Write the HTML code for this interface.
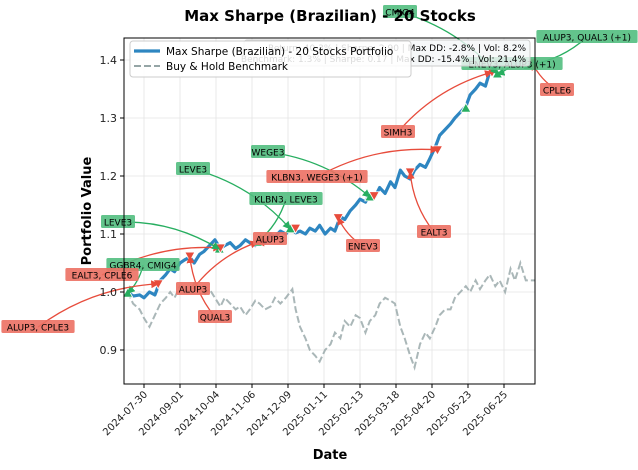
<!DOCTYPE html>
<html><head><meta charset="utf-8"><style>
body{margin:0;background:#fff;}
svg{display:block;font-family:"DejaVu Sans","Liberation Sans",sans-serif;}
</style></head><body>
<svg id="chart" width="638" height="470" viewBox="0 0 638 470"></svg>
<script>
const portDays=[-15,-10,-4,0,5,10,15,20,24,28,33,37,42,46,51,55,60,65,70,74,79,84,88,93,97,102,106,111,116,120,125,130,134,139,143,148,152,157,161,166,171,175,180,184,189,194,198,203,207,212,216,221,226,230,235,239,244,248,253,258,262,267,271,276,281,285,290,295,299,304,308,313,317,322,326,331,336,340,345,350,358];
const portVals=[1.0,0.993,0.995,0.99,1.0,0.995,1.02,1.03,1.04,1.035,1.05,1.055,1.06,1.05,1.065,1.07,1.08,1.09,1.075,1.08,1.085,1.075,1.08,1.09,1.085,1.08,1.09,1.085,1.1,1.095,1.105,1.1,1.11,1.102,1.105,1.1,1.11,1.105,1.115,1.1,1.11,1.105,1.13,1.125,1.14,1.15,1.16,1.155,1.17,1.165,1.18,1.17,1.19,1.18,1.21,1.2,1.195,1.21,1.22,1.215,1.23,1.25,1.27,1.28,1.29,1.3,1.31,1.32,1.34,1.35,1.36,1.355,1.38,1.39,1.39,1.4,1.39,1.395,1.39,1.4,1.40];
const benchDays=[-15,-10,-4,0,5,10,15,20,24,28,33,37,42,46,51,55,60,65,70,74,79,84,88,93,97,102,106,111,116,120,125,130,134,136,139,143,148,152,157,161,166,171,175,180,184,189,194,198,203,207,212,216,221,226,230,235,239,244,248,253,258,262,267,271,276,281,285,290,295,299,304,308,313,317,322,326,331,336,340,345,350,358];
const benchVals=[1.0,0.98,0.97,0.955,0.94,0.96,0.98,0.99,1.0,0.99,1.01,1.005,1.0,1.015,1.01,0.995,1.005,0.99,0.975,0.99,0.98,0.97,0.975,0.96,0.97,0.985,0.98,0.97,0.975,0.99,0.98,0.99,1.0,1.005,0.97,0.94,0.92,0.9,0.89,0.88,0.9,0.91,0.93,0.92,0.95,0.94,0.96,0.955,0.93,0.95,0.96,0.98,0.99,0.985,0.98,0.94,0.92,0.89,0.87,0.91,0.93,0.92,0.94,0.96,0.97,0.97,0.99,1.0,1.01,1.0,1.02,1.005,1.02,1.03,1.01,1.02,1.0,1.04,1.02,1.05,1.02,1.02];
const markerDays=[-15,13,42,69,70,104,134,139,178,207,211,244,269,295,319,324,352,356];
const markerVals=[0.998,1.014,1.062,1.074,1.076,1.086,1.109,1.11,1.128,1.164,1.166,1.207,1.245,1.317,1.379,1.376,1.391,1.395];
const markerType=['buy','sell','sell','buy','sell','buy','buy','sell','sell','buy','sell','sell','sell','buy','sell','buy','buy','sell'];
const yTicks=[0.9,1.0,1.1,1.2,1.3,1.4];
const xTickDays=[0,33,66,99,132,165,198,231,264,297,330];
const xTickLabels=['2024-07-30','2024-09-01','2024-10-04','2024-11-06','2024-12-09','2025-01-11','2025-02-13','2025-03-18','2025-04-20','2025-05-23','2025-06-25'];
const annText=['GGBR4, CMIG4','ALUP3, CPLE3','EALT3, CPLE6','QUAL3','LEVE3','ALUP3','KLBN3, LEVE3','ALUP3','LEVE3','ENEV3','WEGE3','KLBN3, WEGE3 (+1)','EALT3','SIMH3','CMIG4','ENEV3, ALUP3 (+1)','ALUP3, QUAL3 (+1)','CPLE6'];
const annX=[143,38,102,215,118,193,286,270,193,363,268,317,434,398,400,512,587,557];
const annY=[265,327,275,317,222,289,199,239,169,246,152,177,232,132,12,64,37,90];
const annType=['buy','sell','sell','sell','buy','sell','buy','sell','buy','sell','buy','sell','sell','sell','buy','buy','buy','sell'];
const annTarget=[0,1,4,2,3,5,5,5,6,8,9,12,11,14,15,15,16,17];

const L=124,R=535,T=38,B=384;
const xS=d=>144+d*36/33;
const yS=v=>292-(v-1)*580;
const svg=document.getElementById('chart');
const NS='http://www.w3.org/2000/svg';
function mk(tag,attrs,parent){const e=document.createElementNS(NS,tag);for(const k in attrs)e.setAttribute(k,attrs[k]);(parent||svg).appendChild(e);return e;}
const RED='#e74c3c',GREEN='#27ae60';

yTicks.forEach(v=>{const g=mk('line',{x1:L,x2:R,y1:yS(v),y2:yS(v),stroke:'#e5e5e5','stroke-width':0.8});

});
xTickDays.forEach(d=>{const g=mk('line',{x1:xS(d),x2:xS(d),y1:T,y2:B,stroke:'#e5e5e5','stroke-width':0.8});

});

const bp=mk('polyline',{points:benchDays.map((d,i)=>xS(d)+','+yS(benchVals[i])).join(' '),fill:'none',stroke:'#95a5a6','stroke-width':2,'stroke-dasharray':'7,3',opacity:0.8});


const pp=mk('polyline',{points:portDays.map((d,i)=>xS(d)+','+yS(portVals[i])).join(' '),fill:'none',stroke:'#2e86c1','stroke-width':3.2,'stroke-linejoin':'round'});



markerDays.forEach((d,i)=>{const x=xS(d),y=yS(markerVals[i]);
const buy=markerType[i]==='buy';
const pts=buy?`${x-5},${y+4} ${x+5},${y+4} ${x},${y-5}`:`${x-5},${y-4} ${x+5},${y-4} ${x},${y+5}`;
const m=mk('polygon',{points:pts,fill:buy?GREEN:RED,stroke:'#fff','stroke-width':0.8});

});

const defs=mk('defs',{});
[['ar',RED],['ag',GREEN]].forEach(([id,c])=>{const mm=mk('marker',{id:id,markerWidth:8,markerHeight:8,refX:7,refY:4,orient:'auto',markerUnits:'userSpaceOnUse'},defs);mk('path',{d:'M0,0 L8,4 L0,8 z',fill:c},mm);});

annText.forEach((t,i)=>{const buy=annType[i]==='buy';const c=buy?GREEN:RED;
const mi=annTarget[i];const tx=xS(markerDays[mi]),ty=yS(markerVals[mi]);
const lx=annX[i],ly=annY[i];
const mx=(lx+tx)/2,my=(ly+ty)/2;const dx=tx-lx,dy=ty-ly;
const cx=mx+dy*0.15,cy=my-dx*0.15;
const a=mk('path',{d:`M${lx},${ly} Q${cx},${cy} ${tx},${ty}`,fill:'none',stroke:c,'stroke-width':1.3,'marker-end':buy?'url(#ag)':'url(#ar)'});

});
annText.forEach((t,i)=>{const buy=annType[i]==='buy';
const g=mk('g',{});


const w=t.length*5.6+6;
mk('rect',{x:annX[i]-w/2,y:annY[i]-7,width:w,height:13,rx:1.5,fill:buy?'#52be80':'#ec7063',opacity:0.9},g);
const tt=mk('text',{x:annX[i],y:annY[i]+3.5,'font-size':9,'text-anchor':'middle',fill:'#000'},g);tt.textContent=t;});

const fr=mk('rect',{x:L,y:T,width:R-L,height:B-T,fill:'none',stroke:'#000','stroke-width':1});


yTicks.forEach(v=>{mk('line',{x1:L-4,x2:L,y1:yS(v),y2:yS(v),stroke:'#000'});
const t=mk('text',{x:L-7,y:yS(v)+4,'font-size':11,'text-anchor':'end',fill:'#222'});


t.textContent=v.toFixed(1);});
xTickDays.forEach((d,i)=>{const x=xS(d);mk('line',{x1:x,x2:x,y1:B,y2:B+4,stroke:'#000'});
const t=mk('text',{x:x+4,y:B+11,'font-size':10,'text-anchor':'end',fill:'#222',transform:`rotate(-45 ${x+4} ${B+11})`});


t.textContent=xTickLabels[i];});
</script>
<svg width="638" height="470" style="position:absolute;left:0;top:0;font-family:'DejaVu Sans','Liberation Sans',sans-serif">
<text x="330" y="21" font-size="15" font-weight="bold" text-anchor="middle">Max Sharpe (Brazilian) - 20 Stocks</text>
<text x="330" y="459" font-size="13" font-weight="bold" text-anchor="middle">Date</text>
<text x="91" y="211" font-size="13" font-weight="bold" text-anchor="middle" transform="rotate(-90 91 211)">Portfolio Value</text>
<g>
<rect x="244" y="40" width="286" height="26" rx="3" fill="#f4f6f7" fill-opacity="0.8" stroke="#ccc"/>
<text x="526" y="51" font-size="9" text-anchor="end">Return: 40.3% | Sharpe: 2.90 | Max DD: -2.8% | Vol: 8.2%</text>
<text x="526" y="62" font-size="9" text-anchor="end">Benchmark: 1.3% | Sharpe: 0.17 | Max DD: -15.4% | Vol: 21.4%</text>
</g>
<g>
<rect x="130" y="41" width="281" height="36" rx="3" fill="#fff" fill-opacity="0.85" stroke="#ccc"/>
<line x1="134" x2="160" y1="51" y2="51" stroke="#2e86c1" stroke-width="3.2"/>
<text x="166" y="55" font-size="10.5">Max Sharpe (Brazilian) - 20 Stocks Portfolio</text>
<line x1="134" x2="160" y1="66" y2="66" stroke="#95a5a6" stroke-width="2" stroke-dasharray="7,3"/>
<text x="166" y="70" font-size="10.5">Buy &amp; Hold Benchmark</text>
</g>
</svg>
</body></html>
